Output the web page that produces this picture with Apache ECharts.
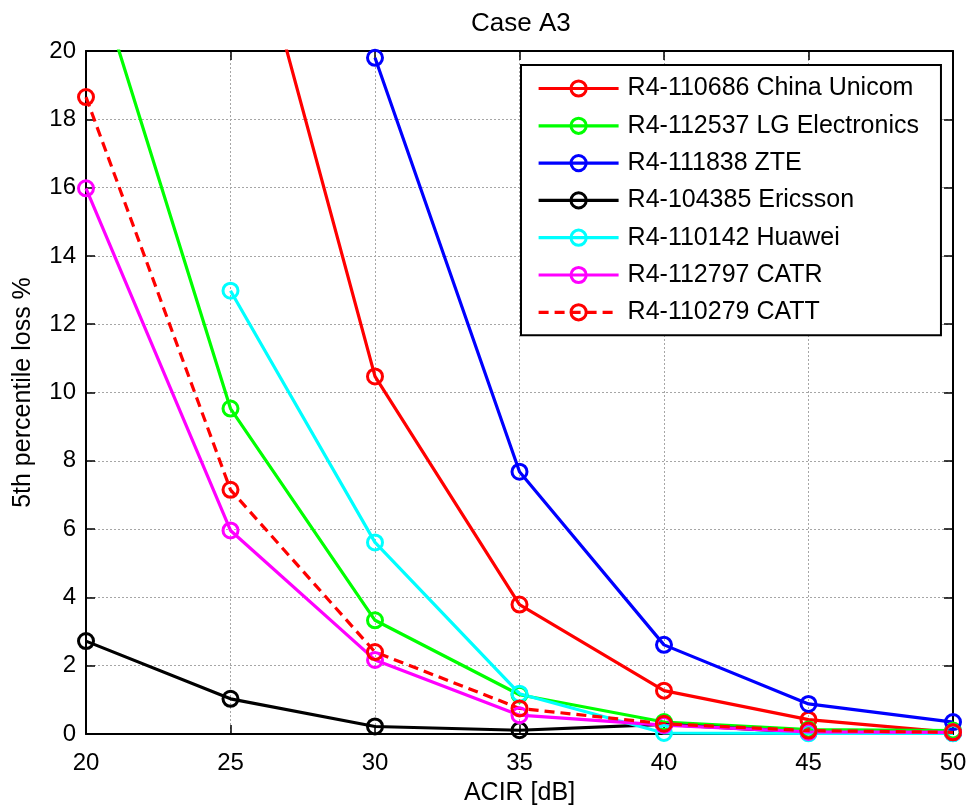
<!DOCTYPE html>
<html>
<head>
<meta charset="utf-8">
<title>Case A3</title>
<script src="https://cdn.jsdelivr.net/npm/echarts@6/dist/echarts.min.js"></script>
<style>
  html, body { margin: 0; padding: 0; background: #fff; }
  #chart { width: 970px; height: 807px; }
</style>
</head>
<body>
<div id="chart"></div>
<script>
// ACIR values (dB) on the x axis
const acir = [20, 25, 30, 35, 40, 45, 50];

// 5th percentile loss (%) per contribution; null = no point at that ACIR
const chinaUnicom   = [null, 26.1, 10.47, 3.79, 1.27, 0.42, 0.05];
const lgElectronics = [23.1, 9.53, 3.33, 1.15, 0.35, 0.13, 0.1];
const zte           = [null, null, 19.8, 7.68, 2.61, 0.88, 0.35];
const ericsson      = [2.72, 1.03, 0.22, 0.11, 0.28, 0.05, 0.03];
const huawei        = [null, 12.98, 5.61, 1.18, 0.03, 0.02, 0.02];
const catr          = [15.98, 5.96, 2.17, 0.55, 0.26, 0.06, 0.05];
const catt          = [18.65, 7.15, 2.4, 0.75, 0.3, 0.1, 0.05];

const seriesNames = [
  'R4-110686 China Unicom',
  'R4-112537 LG Electronics',
  'R4-111838 ZTE',
  'R4-104385 Ericsson',
  'R4-110142 Huawei',
  'R4-112797 CATR',
  'R4-110279 CATT'
];
const seriesValues = [chinaUnicom, lgElectronics, zte, ericsson, huawei, catr, catt];
const seriesColors = ['#ff0000', '#00ff00', '#0000ff', '#000000', '#00ffff', '#ff00ff', '#ff0000'];
const seriesDashed = [false, false, false, false, false, false, true];

const FONT = '"Liberation Sans", Arial, Helvetica, sans-serif';

function pairs(values) {
  const out = [];
  for (let i = 0; i < acir.length; i++) {
    if (values[i] !== null) out.push([acir[i], values[i]]);
  }
  return out;
}

const series = seriesNames.map((name, i) => ({
  name: name,
  type: 'line',
  data: pairs(seriesValues[i]),
  xAxisIndex: 0,
  yAxisIndex: 0,
  symbol: 'circle',
  symbolSize: 15,
  clip: true,
  animation: false,
  itemStyle: {
    color: 'rgba(0,0,0,0)',
    borderColor: seriesColors[i],
    borderWidth: 3
  },
  lineStyle: {
    color: seriesColors[i],
    width: 3.2,
    type: seriesDashed[i] ? [10, 6] : 'solid'
  },
  emphasis: { disabled: true }
}));

const tickStyle = { show: true, inside: true, length: 9, lineStyle: { color: '#000', width: 1.5 } };
const axisLine = { show: true, onZero: false, lineStyle: { color: '#000', width: 2 } };
const gridLine = { show: true, lineStyle: { color: '#a6a6a6', width: 1, type: [2, 2] } };

const chart = echarts.init(document.getElementById('chart'), null, { renderer: 'canvas' });
chart.setOption({
  backgroundColor: '#ffffff',
  animation: false,
  title: {
    text: 'Case A3',
    left: 466,
    top: 6,
    textStyle: { fontFamily: FONT, fontSize: 26, fontWeight: 'normal', color: '#000' }
  },
  grid: { left: 86, right: 17, top: 51, bottom: 73, containLabel: false, outerBoundsMode: 'none' },
  xAxis: [
    {
      type: 'value', position: 'bottom', min: 20, max: 50, interval: 5,
      name: 'ACIR [dB]', nameLocation: 'middle', nameGap: 47,
      nameTextStyle: { fontFamily: FONT, fontSize: 25, color: '#000' },
      axisLine: axisLine, axisTick: tickStyle, splitLine: gridLine,
      axisLabel: { fontFamily: FONT, fontSize: 24, color: '#000', margin: 17 }
    },
    {
      type: 'value', position: 'top', min: 20, max: 50, interval: 5,
      axisLine: axisLine, axisTick: tickStyle, splitLine: { show: false },
      axisLabel: { show: false }
    }
  ],
  yAxis: [
    {
      type: 'value', position: 'left', min: 0, max: 20, interval: 2,
      name: '5th percentile loss %', nameLocation: 'middle', nameGap: 50, nameRotate: 90,
      nameTextStyle: { fontFamily: FONT, fontSize: 25, color: '#000' },
      axisLine: axisLine, axisTick: tickStyle, splitLine: gridLine,
      axisLabel: { fontFamily: FONT, fontSize: 24, color: '#000', margin: 10 }
    },
    {
      type: 'value', position: 'right', min: 0, max: 20, interval: 2,
      axisLine: axisLine, axisTick: tickStyle, splitLine: { show: false },
      axisLabel: { show: false }
    }
  ],
  legend: {
    orient: 'vertical',
    left: 521,
    top: 65,
    padding: [9.5, 22, 9, 16],
    itemGap: 9.3,
    itemWidth: 80,
    itemHeight: 19,
    backgroundColor: '#ffffff',
    borderColor: '#000000',
    borderWidth: 2,
    borderRadius: 0,
    selectedMode: false,
    lineStyle: { width: 3.2 },
    itemStyle: { borderWidth: 3 },
    textStyle: { fontFamily: FONT, fontSize: 25, color: '#000', lineHeight: 28, padding: [0, 0, 0, 4] },
    data: seriesNames
  },
  series: series
});
</script>
</body>
</html>
